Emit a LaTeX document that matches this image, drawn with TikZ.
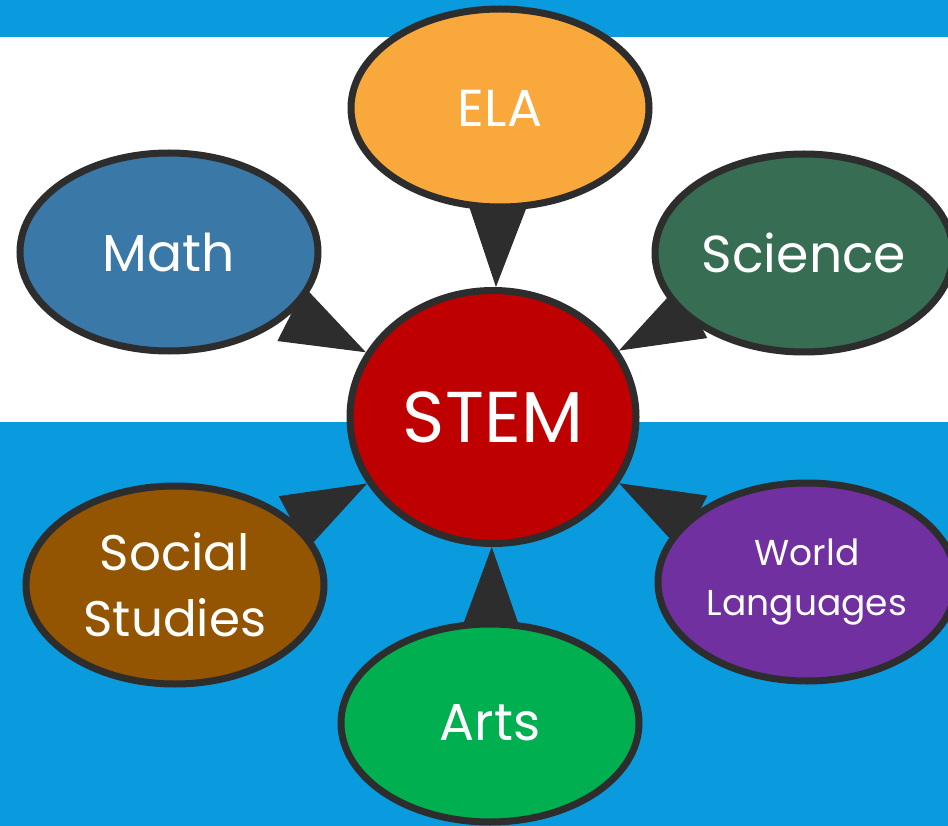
\documentclass[tikz,border=0pt]{standalone}
\usepackage{fontspec}
\setmainfont{Poppins}
\usetikzlibrary{arrows.meta,shapes.geometric}
\pgfdeclarelayer{bands}
\pgfdeclarelayer{wedges}
\pgfsetlayers{bands,wedges,main}
\definecolor{skyband}{HTML}{0A9ADE}
\definecolor{rim}{HTML}{2D2D2D}
\definecolor{elaorange}{HTML}{F9A83B}
\definecolor{mathblue}{HTML}{3A78A8}
\definecolor{scigreen}{HTML}{376E53}
\definecolor{stemred}{HTML}{BF0000}
\definecolor{socbrown}{HTML}{935502}
\definecolor{wlpurple}{HTML}{7030A0}
\definecolor{artsgreen}{HTML}{00AF50}
\tikzset{
  topic/.style={ellipse, draw=rim, line width=7pt, text=white, inner sep=0pt,
    minimum width=298pt, minimum height=198pt, align=center,
    font=\fontsize{52}{66}\selectfont},
  hub/.style={topic, minimum width=286pt, minimum height=253pt,
    font=\fontsize{72}{80}\selectfont},
  wedge/.style={-{Triangle[length=84pt,width=60pt]}, draw=rim, line width=1pt,
    shorten <=-12pt}
}
\begin{document}
\begin{tikzpicture}[x=1pt,y=-1pt]
            \clip (0,0) rectangle (948,826);
            \begin{pgfonlayer}{bands}
              \fill[skyband] (0,0) rectangle (948,37);
              \fill[white] (0,37) rectangle (948,422);
              \fill[skyband] (0,422) rectangle (948,826);
            \end{pgfonlayer}

            \node[hub, fill=stemred] (stem) at (493,417) {STEM};
            \node[topic, fill=elaorange] (ela) at (500,108) {ELA};
            \node[topic, fill=mathblue] (math) at (169,252) {Math};
            \node[topic, fill=scigreen] (sci) at (804,253) {Science};
            \node[topic, fill=socbrown, font=\fontsize{50}{66}\selectfont] (soc) at (175,585) {Social\\Studies};
            \node[topic, fill=wlpurple, font=\fontsize{36}{50}\selectfont] (wl) at (807,582) {World\\Languages};
            \node[topic, fill=artsgreen] (arts) at (490,723) {Arts};

            \begin{pgfonlayer}{wedges}
              \draw[wedge] (ela) to (stem); \draw[wedge] (math) to (stem); \draw[wedge] (sci) to (stem);
              \draw[wedge] (soc) to (stem); \draw[wedge] (wl) to (stem); \draw[wedge] (arts) to (stem);
            \end{pgfonlayer}
        \end{tikzpicture}
\end{document}
